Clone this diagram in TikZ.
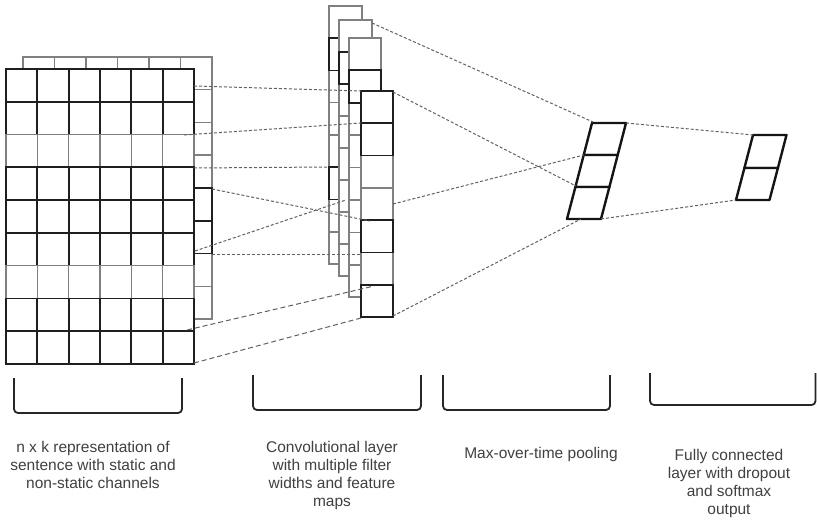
\documentclass[tikz,border=0pt]{standalone}
\usepackage{fontspec}
\setmainfont{Liberation Sans}
\begin{document}
\begin{tikzpicture}[x=1pt,y=-1pt,
  gb/.style={draw=black!88,line width=1.8pt,fill=white},
  gg/.style={draw=black!50,line width=1.5pt,fill=white},
  conn/.style={draw=black!62,line width=1pt,dash pattern=on 3pt off 2pt},
  connlong/.style={conn,dash pattern=on 5pt off 3pt},
  poolcell/.style={draw=black!92,line width=2.4pt,fill=white,line join=round},
  bracket/.style={draw=black!85,line width=1.8pt,rounded corners=4pt},
  caption/.style={text=black!75,font=\fontsize{15.5}{18}\selectfont,align=center,anchor=north,inner sep=0pt}]

\useasboundingbox (0,0) rectangle (817,524);

% ---- input matrix: second channel behind, first channel in front ----
\foreach \r in {0,...,7}{\foreach \c in {0,...,5}{
  \draw[gg] ({23+\c*31.5},{57+\r*32.75}) rectangle ++(31.5,32.75);}}
\foreach \r in {4,5}{\draw[gb] ({23+5*31.5},{57+\r*32.75}) rectangle ++(31.5,32.75);}

\foreach \r/\s in {0/gb,1/gb,2/gg,3/gb,4/gb,5/gb,6/gg,7/gb,8/gb}{\foreach \c in {0,...,5}{
  \draw[\s] ({6+\c*31.33},{69+\r*32.78}) rectangle ++(31.33,32.78);}}

% ---- feature maps, back to front ----
\foreach \k in {0,...,7}{\draw[gg] (329,{6+\k*32.25}) rectangle ++(33,32.25);}
\foreach \k in {1,5}{\draw[gb] (329,{6+\k*32.25}) rectangle ++(33,32.25);}

\foreach \k in {0,...,7}{\draw[gg] (339,{20+\k*32}) rectangle ++(33,32);}
\foreach \k in {1}{\draw[gb] (339,{20+\k*32}) rectangle ++(33,32);}

\foreach \k in {0,...,7}{\draw[gg] (349,{38+\k*32.4}) rectangle ++(32,32.4);}
\foreach \k in {1}{\draw[gb] (349,{38+\k*32.4}) rectangle ++(32,32.4);}

\foreach \k in {0,...,6}{\draw[gg] (361,{91+\k*32.3}) rectangle ++(32,32.3);}
\foreach \k in {0,1,4,6}{\draw[gb] (361,{91+\k*32.3}) rectangle ++(32,32.3);}

% ---- max-over-time pooling ----
\draw[poolcell] (592,123) -- (626,123) -- (617.7,155) -- (583.7,155) -- cycle;
\draw[poolcell] (583.7,155) -- (617.7,155) -- (609.4,187) -- (575.4,187) -- cycle;
\draw[poolcell] (575.4,187) -- (609.4,187) -- (601,219) -- (567,219) -- cycle;

% ---- fully connected output ----
\draw[poolcell] (753,135) -- (786.5,135) -- (777.9,168) -- (744.4,168) -- cycle;
\draw[poolcell] (744.4,168) -- (777.9,168) -- (769.5,200) -- (736,200) -- cycle;

% ---- connector end points ----
\coordinate (a1) at (194,86);   \coordinate (b1) at (361,91);
\coordinate (a2) at (184,135);  \coordinate (b2) at (361,123);
\coordinate (a3) at (194,168);  \coordinate (b3) at (329,167);
\coordinate (a4) at (212,189);  \coordinate (b4) at (370,221);
\coordinate (a5) at (195,251);  \coordinate (b5) at (346,200);
\coordinate (a6) at (212,254);  \coordinate (b6) at (361,254);
\coordinate (a7) at (187,330);  \coordinate (b7) at (374,286);
\coordinate (a8) at (194,363);  \coordinate (b8) at (361,318);
\coordinate (c1) at (372,23);   \coordinate (p1) at (593,122);
\coordinate (c2) at (393,92);   \coordinate (p3) at (576,186);
\coordinate (c3) at (393,204);  \coordinate (p2) at (584,155);
\coordinate (c4) at (393,316);  \coordinate (p4) at (581,219);
\coordinate (q1) at (626,123);  \coordinate (f1) at (753,135);
\coordinate (q2) at (601,219);  \coordinate (f2) at (736,200);

\foreach \u/\v in {a1/b1,a2/b2,a3/b3,a4/b4,a5/b5,a6/b6,c1/p1,c2/p3,c3/p2,c4/p4,q1/f1,q2/f2}
  {\draw[conn] (\u) -- (\v);}
\draw[connlong] (a7) -- (b7);
\draw[connlong] (a8) -- (b8);

% ---- brackets and captions ----
\draw[bracket] (14,378) -- (14,413) -- (182,413) -- (182,378);
\draw[bracket] (253,375) -- (253,410) -- (421,410) -- (421,375);
\draw[bracket] (443,375) -- (443,410) -- (610,410) -- (610,375);
\draw[bracket] (650,373) -- (650,405) -- (815.5,405) -- (815.5,373);

\node[caption] (t1) at (93,441) {n x k representation of\\sentence with static and\\non-static channels};
\node[caption] (t2) at (332,441) {Convolutional layer\\with multiple filter\\widths and feature\\maps};
\node[caption] (t3) at (541,447) {Max-over-time pooling};
\node[caption] (t4) at (729,449) {Fully connected\\layer with dropout\\and softmax\\output};
\end{tikzpicture}
\end{document}
